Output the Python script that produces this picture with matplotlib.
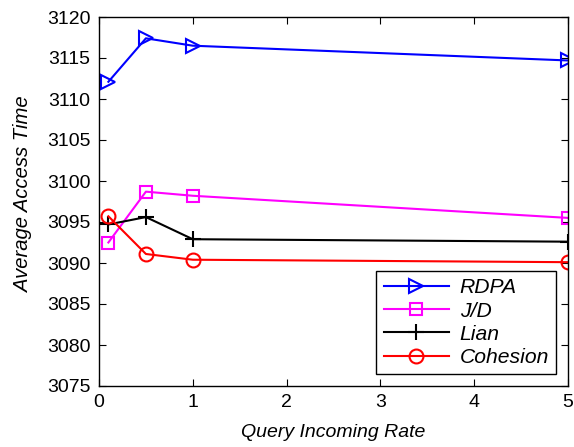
import matplotlib
matplotlib.use("Agg")
import matplotlib.pyplot as plt

plt.rcParams['font.family'] = ['Liberation Sans', 'DejaVu Sans']

rates = [0.1, 0.5, 1, 5]
rdpa = [3112.1, 3117.4, 3116.5, 3114.7]
jd = [3092.5, 3098.7, 3098.2, 3095.5]
lian = [3094.7, 3095.6, 3092.9, 3092.6]
cohesion = [3095.7, 3091.1, 3090.4, 3090.1]

series_names = ['RDPA', 'J/D', 'Lian', 'Cohesion']
x_ticks = [0, 1, 2, 3, 4, 5]
y_ticks = list(range(3075, 3121, 5))

fig = plt.figure(figsize=(5.74, 4.47), dpi=100)
ax = fig.add_axes([99 / 574, 1 - 386 / 447, 469 / 574, 369 / 447])

ax.plot(rates, rdpa, color='#0000ff', marker='>', markersize=10, markerfacecolor='none',
        markeredgewidth=1.5, linewidth=1.5, label=series_names[0])
ax.plot(rates, jd, color='#ff00ff', marker='s', markersize=8, markerfacecolor='none',
        markeredgewidth=1.5, linewidth=1.5, label=series_names[1])
ax.plot(rates, lian, color='black', marker='+', markersize=11,
        markeredgewidth=1.5, linewidth=1.5, label=series_names[2])
ax.plot(rates, cohesion, color='#ff0000', marker='o', markersize=10, markerfacecolor='none',
        markeredgewidth=1.5, linewidth=1.5, label=series_names[3])

ax.set_xlim(0, 5)
ax.set_ylim(3075, 3120)
ax.set_xticks(x_ticks)
ax.set_yticks(y_ticks)
ax.tick_params(direction='in', top=True, right=True, labelsize=14, length=5, width=0.8, pad=6)
for s in ax.spines.values():
    s.set_linewidth(1.0)

ax.set_xlabel('Query Incoming Rate', fontsize=14, fontstyle='italic', labelpad=9)
ax.set_ylabel('Average Access Time', fontsize=14.6, fontstyle='italic')
ax.yaxis.set_label_coords(-0.141, 0.52)

leg = ax.legend(loc='lower right', prop={'style': 'italic', 'size': 15.2},
                fancybox=False, edgecolor='black', framealpha=1, borderaxespad=0.55,
                handlelength=3.1, labelspacing=0.2, borderpad=0.35, handletextpad=0.5)
leg.get_frame().set_linewidth(1.0)

fig.savefig('out.png', dpi=100)
